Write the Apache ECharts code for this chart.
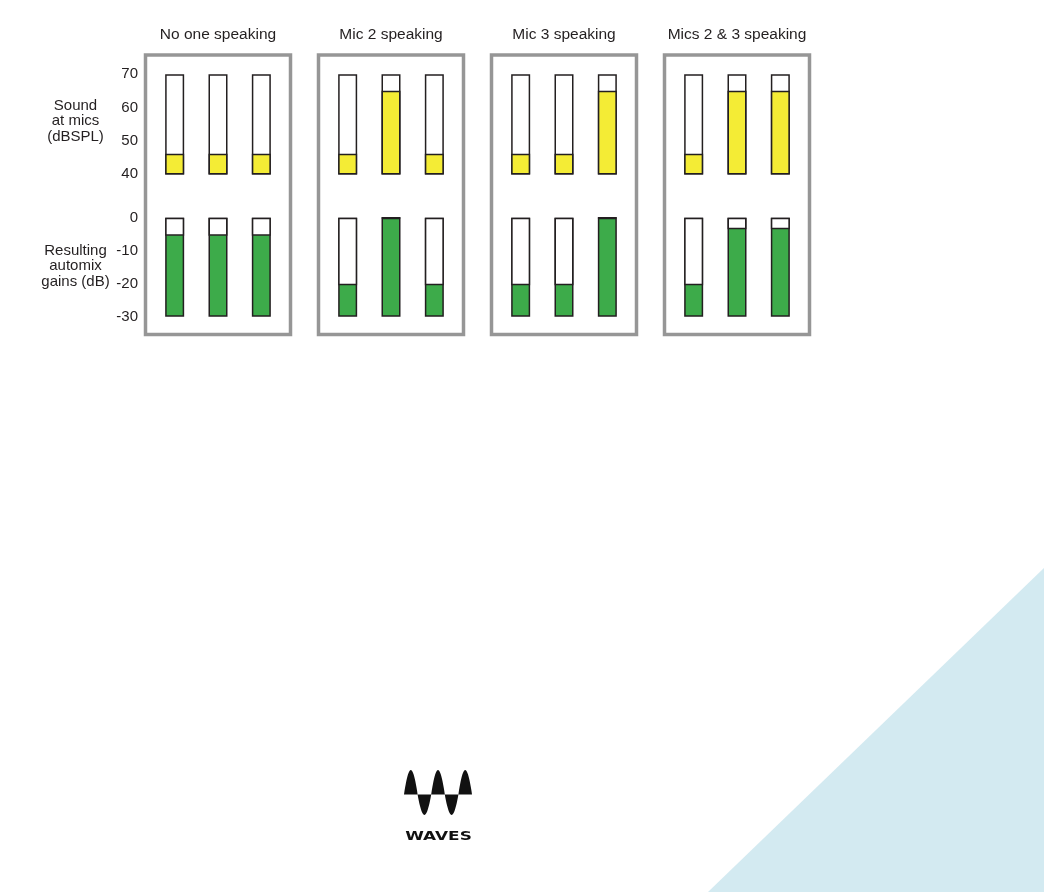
<!DOCTYPE html>
<html>
<head>
<meta charset="utf-8">
<script src="https://cdn.jsdelivr.net/npm/echarts@6/dist/echarts.min.js"></script>
<style>
  html, body { margin: 0; padding: 0; background: #fff; }
  #chart { width: 1044px; height: 892px; }
</style>
</head>
<body>
<div id="chart"></div>
<script>
// data
const panelTitles = ['No one speaking', 'Mic 2 speaking', 'Mic 3 speaking', 'Mics 2 & 3 speaking'];
const micNames = ['Mic 1', 'Mic 2', 'Mic 3'];
const soundLevels = [
  [46, 46, 46],
  [46, 65, 46],
  [46, 46, 65],
  [46, 65, 65]
];
const mixGains = [
  [-5.5, -5.5, -5.5],
  [-20.5, 0, -20.5],
  [-20.5, -20.5, 0],
  [-20.5, -3.5, -3.5]
];
const soundMin = 40, soundMax = 70;
const gainMin = -30, gainMax = 0;
const soundLabel = 'Sound\nat mics\n(dBSPL)';
const gainLabel = 'Resulting\nautomix\ngains (dB)';
const logoText = 'WAVES';

const chart = echarts.init(document.getElementById('chart'), null, { renderer: 'canvas' });

const FONT = '"Liberation Sans", Arial, Helvetica, sans-serif';
const INK = '#231f20';
const YELLOW = '#f4ec35';
const GREEN = '#3dab4a';

const panelLeft = 145.5, panelStep = 173, panelW = 145;
const gridInset = 7.5, gridW = 130;

const grid = [], xAxis = [], yAxis = [], series = [], graphic = [];

panelTitles.forEach(function (title, p) {
  const left = panelLeft + panelStep * p;
  // two sections per panel: sound level (top) and gain (bottom)
  [
    { top: 74.3, height: 99.4, min: soundMin, max: soundMax },
    { top: 217.7, height: 99, min: gainMin, max: gainMax }
  ].forEach(function (sec, s) {
    const idx = grid.length;
    grid.push({ left: left + gridInset, width: gridW, top: sec.top, height: sec.height });
    xAxis.push({ type: 'category', gridIndex: idx, data: micNames, show: false });
    yAxis.push({
      type: 'value', gridIndex: idx, min: sec.min, max: sec.max, interval: 10,
      axisLine: { show: false }, axisTick: { show: false }, splitLine: { show: false },
      axisLabel: {
        show: p === 0, margin: 15, fontSize: 15, color: INK, fontFamily: FONT
      }
    });
    const barBase = {
      type: 'bar', xAxisIndex: idx, yAxisIndex: idx, barWidth: 19, barGap: '-100%',
      animation: false, silent: true
    };
    if (s === 0) {
      series.push(Object.assign({}, barBase, {
        data: micNames.map(function () { return soundMax; }),
        itemStyle: { color: '#fff', borderColor: INK, borderWidth: 1.5 }
      }));
      series.push(Object.assign({}, barBase, {
        data: soundLevels[p],
        itemStyle: { color: YELLOW, borderColor: INK, borderWidth: 1.5 }
      }));
    } else {
      // full green column, then the white part from 0 down to the gain
      series.push(Object.assign({}, barBase, {
        data: micNames.map(function () { return gainMin; }),
        itemStyle: { color: GREEN, borderColor: INK, borderWidth: 1.5 }
      }));
      series.push(Object.assign({}, barBase, {
        data: mixGains[p],
        itemStyle: { color: '#fff', borderColor: INK, borderWidth: 1.5 }
      }));
    }
  });

  graphic.push({
    type: 'rect', silent: true, z: 0,
    shape: { x: left, y: 55, width: panelW, height: 279.5 },
    style: { fill: 'none', stroke: '#969696', lineWidth: 3.5 }
  });
  graphic.push({
    type: 'text', silent: true, x: left + panelW / 2, y: 35,
    style: { text: title, fill: INK, font: '15.5px ' + FONT, textAlign: 'center', textVerticalAlign: 'middle' }
  });
});

// side labels
graphic.push({
  type: 'text', silent: true, x: 75.5, y: 121,
  style: { text: soundLabel, fill: INK, font: '15px ' + FONT, lineHeight: 15.5, textAlign: 'center', textVerticalAlign: 'middle' }
});
graphic.push({
  type: 'text', silent: true, x: 75.5, y: 266,
  style: { text: gainLabel, fill: INK, font: '15px ' + FONT, lineHeight: 15.5, textAlign: 'center', textVerticalAlign: 'middle' }
});

// light blue corner
graphic.push({
  type: 'polygon', silent: true, z: -1,
  shape: { points: [[708, 892], [1044, 568], [1044, 892]] },
  style: { fill: '#d3eaf1' }
});

// logo: five filled wave lobes and the word
const wavePts = [];
const x0 = 404, half = 13.6, mid = 794.5;
for (let k = 0; k < 5; k++) {
  const h = k % 2 === 0 ? -24.5 : 20.5;
  for (let i = 0; i <= 24; i++) {
    const t = i / 24;
    wavePts.push([x0 + (k + t) * half, mid + h * Math.pow(Math.sin(Math.PI * t), 0.9)]);
  }
}
wavePts.push([x0, mid]);
graphic.push({
  type: 'polygon', silent: true,
  shape: { points: wavePts },
  style: { fill: '#111' }
});
graphic.push({
  type: 'text', silent: true, x: 438.5, y: 837, scaleX: 1.3, scaleY: 1,
  style: { text: logoText, fill: '#111', font: 'bold 13px "DejaVu Sans", ' + FONT, textAlign: 'center', textVerticalAlign: 'middle' }
});

chart.setOption({
  backgroundColor: '#fff',
  animation: false,
  grid: grid,
  xAxis: xAxis,
  yAxis: yAxis,
  series: series,
  graphic: graphic
});
</script>
</body>
</html>
